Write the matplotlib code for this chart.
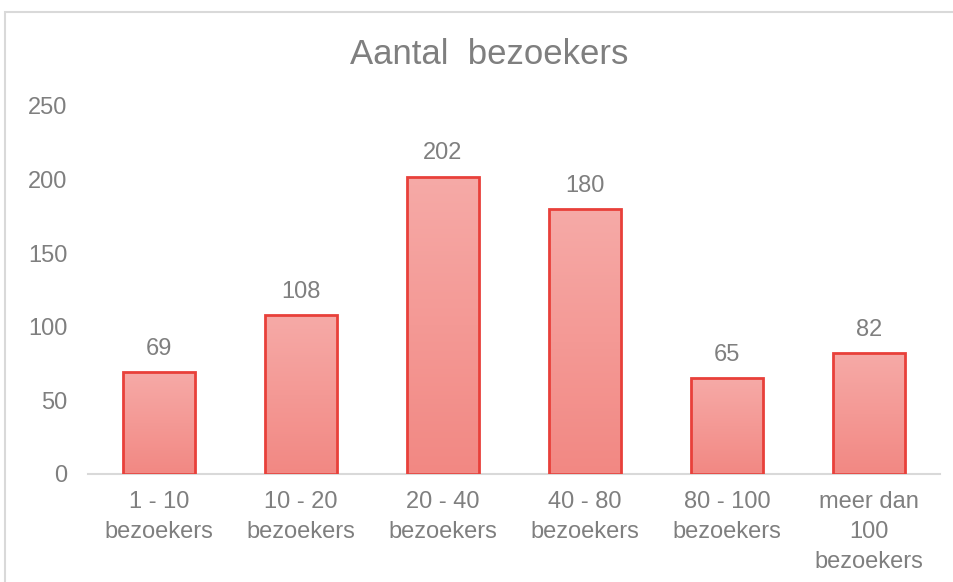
import numpy as np
import matplotlib
matplotlib.use("Agg")
import matplotlib.pyplot as plt
from matplotlib.patches import Rectangle
from matplotlib.colors import LinearSegmentedColormap

categories = ["1 - 10\nbezoekers", "10 - 20\nbezoekers", "20 - 40\nbezoekers",
              "40 - 80\nbezoekers", "80 - 100\nbezoekers", "meer dan\n100\nbezoekers"]
values = [69, 108, 202, 180, 65, 82]
yticks = [0, 50, 100, 150, 200, 250]

plt.rcParams['font.family'] = ['Liberation Sans', 'DejaVu Sans']
grey = '#7f7f7f'

fig = plt.figure(figsize=(9.54, 5.82), dpi=100)
ax = fig.add_axes([88 / 954, 1 - 474 / 582, 852 / 954, 368 / 582])

# chart frame (cut off on the right and bottom)
fig.patches.append(Rectangle((5 / 954, -0.1), 1.2, 1 - 12 / 582 + 0.1,
                             transform=fig.transFigure, fill=False,
                             edgecolor='#d9d9d9', linewidth=1.5))

x = np.arange(len(values))
bars = ax.bar(x, values, width=0.51, color='none', edgecolor='#e8403a',
              linewidth=2, zorder=3)

cmap = LinearSegmentedColormap.from_list('g', ['#f28883', '#f6aaa7'])
grad = np.linspace(0, 1, 256).reshape(-1, 1)
for b in bars:
    x0, w, h = b.get_x(), b.get_width(), b.get_height()
    im = ax.imshow(grad, extent=[x0, x0 + w, 0, h], origin='lower', cmap=cmap,
                   aspect='auto', zorder=2)
    im.set_clip_path(b)
    ax.annotate(str(int(h)), (x0 + w / 2, h), xytext=(0, 9),
                textcoords='offset points', ha='center', va='bottom',
                fontsize=17, color=grey)

ax.set_xlim(-0.5, len(values) - 0.5)
ax.set_ylim(0, 250)
ax.set_yticks(yticks)
ax.set_xticks(x)
ax.set_xticklabels(categories, linespacing=1.48)
ax.tick_params(axis='both', length=0, labelsize=17, labelcolor=grey)
ax.tick_params(axis='y', pad=15)
ax.tick_params(axis='x', pad=12)
for s in ['top', 'right', 'left']:
    ax.spines[s].set_visible(False)
ax.spines['bottom'].set_color('#d9d9d9')
ax.spines['bottom'].set_linewidth(1.5)

fig.text(489 / 954, 1 - 55 / 582, "Aantal  bezoekers", ha='center', va='center',
         fontsize=25, color=grey)

fig.savefig('out.png', dpi=100)
